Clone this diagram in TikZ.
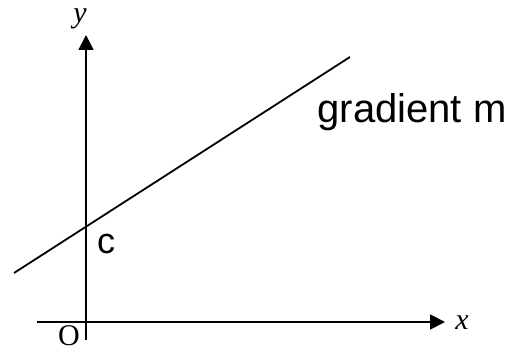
\documentclass[tikz,border=0pt]{standalone}
\usepackage{fontspec}
\setmainfont{Liberation Serif}
\newfontfamily\handfont{Liberation Sans}
\usetikzlibrary{arrows.meta}

\begin{document}
\begin{tikzpicture}[x=1pt,y=1pt,every node/.style={font=\fontsize{30}{34}\selectfont,inner sep=0pt},axis/.style={line width=1.8pt,-{Triangle[length=15pt,width=15pt]}},hand/.style={font=\handfont\fontsize{40}{44}\selectfont}]
\useasboundingbox (0,0) rectangle (516,352);
\coordinate (xa) at (37,30); \coordinate (xb) at (445,30);
\coordinate (ya) at (86,12); \coordinate (yb) at (86,317);
\coordinate (la) at (14,79); \coordinate (lb) at (350,295);
\draw[axis] (xa)--(xb); \draw[axis] (ya)--(yb);
\draw[line width=1.8pt] (la)--(lb);
\node[anchor=base] (xlab) at (462,22) {\itshape x}; \node[anchor=base] (ylab) at (80,329) {\itshape y}; \node[anchor=base] (olab) at (69,6) {O};
\node[hand,font=\handfont\fontsize{36}{40}\selectfont] (clab) at (106,108) {c};
\node[hand] (glab) at (412,240) {gradient m};
\end{tikzpicture}
\end{document}
